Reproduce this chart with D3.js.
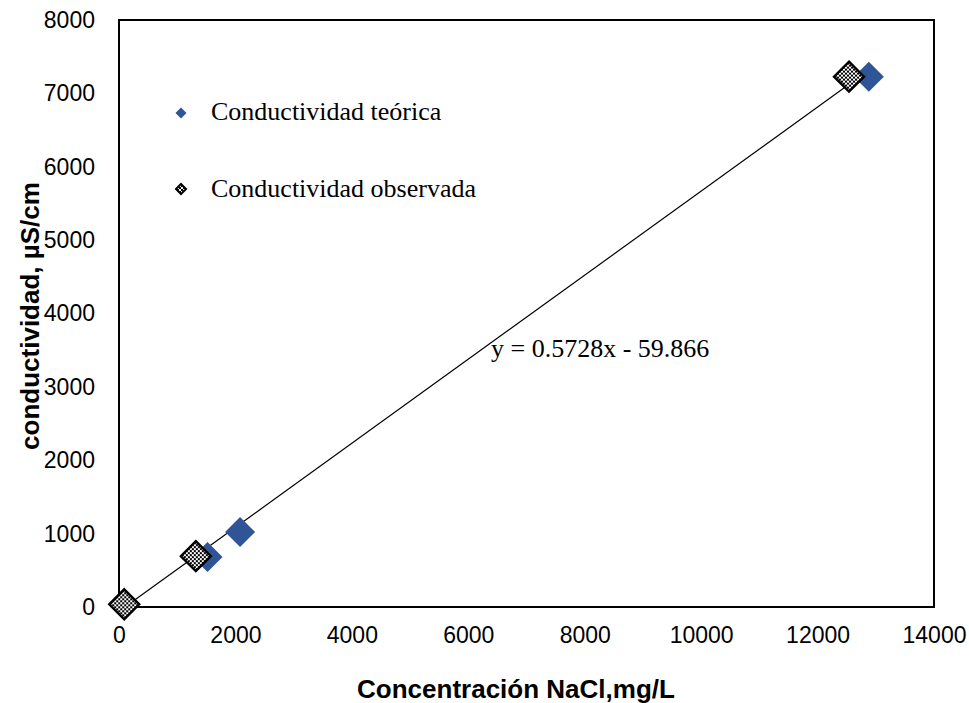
<!DOCTYPE html>
<html>
<head>
<meta charset="utf-8">
<script src="https://cdn.jsdelivr.net/npm/d3@7"></script>
<style>
  html, body { margin: 0; padding: 0; background: #fff; }
  svg { display: block; }
</style>
</head>
<body>
<script>
// Conductivity vs NaCl concentration
const xTicks = [0, 2000, 4000, 6000, 8000, 10000, 12000, 14000];
const yTicks = [0, 1000, 2000, 3000, 4000, 5000, 6000, 7000, 8000];

// theoretical conductivity (µS/cm) by concentration (mg/L)
const teoricaX = [90, 1520, 2080, 12880];
const teoricaY = [30, 683, 1023, 7228];

// observed conductivity (µS/cm) by concentration (mg/L)
const observadaX = [90, 1320, 12540];
const observadaY = [37, 693, 7228];

// linear trend: y = 0.5728x - 59.866
const slope = 0.5728;
const intercept = -59.866;
const equationLabel = "y = 0.5728x - 59.866";

const legendLabels = ["Conductividad teórica", "Conductividad observada"];
const xTitle = "Concentración NaCl,mg/L";
const yTitle = "conductividad, µS/cm";

const W = 969, H = 703;
const margin = { left: 119, right: 35, top: 20, bottom: 96 };
const SANS = "'Liberation Sans', Arial, sans-serif";
const SERIF = "'Liberation Serif', 'Times New Roman', serif";

const svg = d3.select("body").append("svg")
  .attr("width", W).attr("height", H);

// checkered fill for the observed markers
const defs = svg.append("defs");
const pat = defs.append("pattern")
  .attr("id", "checker")
  .attr("patternUnits", "userSpaceOnUse")
  .attr("width", 4).attr("height", 4);
pat.append("rect").attr("width", 4).attr("height", 4).attr("fill", "#fff");
pat.append("rect").attr("width", 2).attr("height", 2).attr("fill", "#000");
pat.append("rect").attr("x", 2).attr("y", 2).attr("width", 2).attr("height", 2).attr("fill", "#000");

const x = d3.scaleLinear().domain([0, 14000]).range([margin.left, W - margin.right]);
const y = d3.scaleLinear().domain([0, 8000]).range([H - margin.bottom, margin.top]);

// plot frame
svg.append("rect")
  .attr("x", x(0)).attr("y", y(8000))
  .attr("width", x(14000) - x(0)).attr("height", y(0) - y(8000))
  .attr("fill", "none").attr("stroke", "#000").attr("stroke-width", 2);

// axes
const xAxis = svg.append("g")
  .attr("transform", `translate(0,${y(0)})`)
  .call(d3.axisBottom(x).tickValues(xTicks).tickSize(0).tickPadding(20).tickFormat(d3.format("d")));
const yAxis = svg.append("g")
  .attr("transform", `translate(${x(0)},0)`)
  .call(d3.axisLeft(y).tickValues(yTicks).tickSize(0).tickPadding(24).tickFormat(d3.format("d")));
[xAxis, yAxis].forEach(g => {
  g.select(".domain").remove();
  g.selectAll("text")
    .attr("font-family", SANS)
    .attr("font-size", 23).attr("fill", "#000");
});

// trend line over the theoretical series range
const xr = d3.extent(teoricaX);
svg.append("line")
  .attr("x1", x(xr[0])).attr("y1", y(slope * xr[0] + intercept))
  .attr("x2", x(xr[1])).attr("y2", y(slope * xr[1] + intercept))
  .attr("stroke", "#000").attr("stroke-width", 1.2);

const diamond = r => `M0,${-r}L${r},0L0,${r}L${-r},0Z`;

// theoretical points
svg.append("g").selectAll("path")
  .data(teoricaX.map((d, i) => [d, teoricaY[i]]))
  .join("path")
  .attr("transform", d => `translate(${x(d[0])},${y(d[1])})`)
  .attr("d", diamond(15))
  .attr("fill", "#2F5597");

// observed points
svg.append("g").selectAll("path")
  .data(observadaX.map((d, i) => [d, observadaY[i]]))
  .join("path")
  .attr("transform", d => `translate(${x(d[0])},${y(d[1])})`)
  .attr("d", diamond(15))
  .attr("fill", "url(#checker)")
  .attr("stroke", "#000").attr("stroke-width", 2.4);

// equation label
svg.append("text")
  .attr("x", 491).attr("y", 357)
  .attr("font-family", SERIF)
  .attr("font-size", 26)
  .text(equationLabel);

// legend
const leg = svg.append("g");
leg.append("path").attr("transform", "translate(181,113)").attr("d", diamond(5.5)).attr("fill", "#2F5597");
leg.append("path").attr("transform", "translate(181,189)").attr("d", diamond(5))
  .attr("fill", "url(#checker)").attr("stroke", "#000").attr("stroke-width", 2);
leg.selectAll("text.lg")
  .data(legendLabels)
  .join("text")
  .attr("class", "lg")
  .attr("x", 211).attr("y", (d, i) => i === 0 ? 120 : 197)
  .attr("font-family", SERIF)
  .attr("font-size", 26)
  .text(d => d);

// axis titles
svg.append("text")
  .attr("x", 516).attr("y", 698)
  .attr("text-anchor", "middle")
  .attr("font-family", SANS)
  .attr("font-weight", "bold").attr("font-size", 26)
  .text(xTitle);
svg.append("text")
  .attr("transform", "translate(39,316) rotate(-90)")
  .attr("text-anchor", "middle")
  .attr("font-family", SANS)
  .attr("font-weight", "bold").attr("font-size", 26)
  .text(yTitle);
</script>
</body>
</html>
